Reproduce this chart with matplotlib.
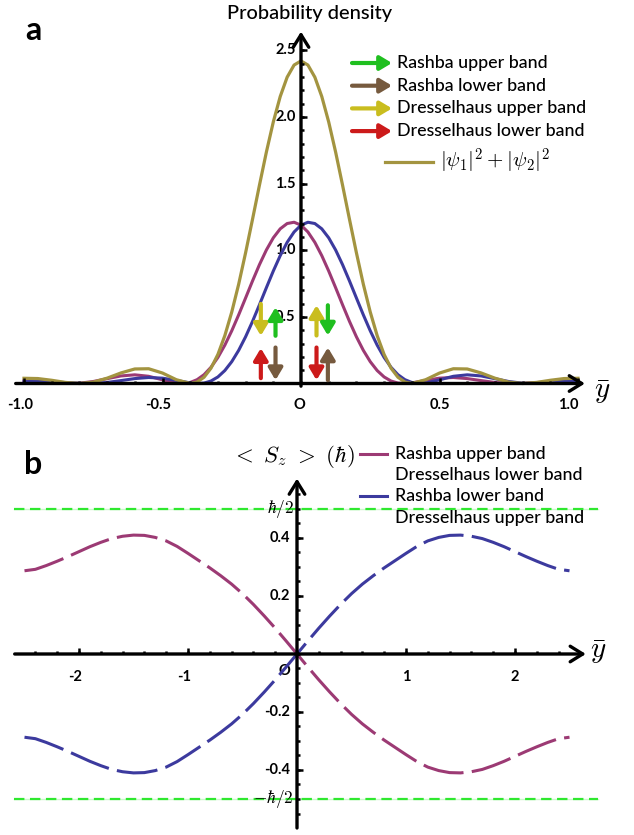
import numpy as np
import matplotlib
matplotlib.use("Agg")
import matplotlib.pyplot as plt

# Panel a: probability density
y_top = [-1.0, -0.95, -0.9, -0.85, -0.8, -0.75, -0.7, -0.65, -0.6, -0.55, -0.5, -0.45,
         -0.4, -0.375, -0.35, -0.325, -0.3, -0.275, -0.25, -0.225, -0.2, -0.175, -0.15,
         -0.125, -0.1, -0.075, -0.05, -0.025, 0.0, 0.025, 0.05, 0.075, 0.1, 0.125, 0.15,
         0.175, 0.2, 0.225, 0.25, 0.275, 0.3, 0.325, 0.35, 0.375, 0.4,
         0.45, 0.5, 0.55, 0.6, 0.65, 0.7, 0.75, 0.8, 0.85, 0.9, 0.95, 1.0]

psi1_sq = [0.0225, 0.0173, 0.0081, 0.0008, 0.0021, 0.0149, 0.0362, 0.0568, 0.0651, 0.0541, 0.0276, 0.0031,
           0.0078, 0.0289, 0.0662, 0.1215, 0.1956, 0.2877, 0.3953, 0.5151, 0.6418, 0.7694, 0.8916,
           1.0016, 1.0929, 1.1604, 1.2001, 1.2097, 1.1879, 1.1367, 1.0589, 0.9593, 0.8438, 0.7187, 0.5906,
           0.4660, 0.3506, 0.2488, 0.1638, 0.0972, 0.0492, 0.0186, 0.0033, 0.0002, 0.0046,
           0.0232, 0.0401, 0.0449, 0.0369, 0.0219, 0.0079, 0.0006, 0.0012, 0.0069, 0.0130, 0.0157, 0.0138]

psi2_sq = [0.0138, 0.0157, 0.0130, 0.0069, 0.0012, 0.0006, 0.0079, 0.0219, 0.0369, 0.0449, 0.0401, 0.0232,
           0.0046, 0.0002, 0.0033, 0.0186, 0.0492, 0.0972, 0.1638, 0.2488, 0.3506, 0.4660, 0.5906,
           0.7187, 0.8438, 0.9593, 1.0589, 1.1367, 1.1879, 1.2097, 1.2001, 1.1604, 1.0929, 1.0016, 0.8916,
           0.7694, 0.6418, 0.5151, 0.3953, 0.2877, 0.1956, 0.1215, 0.0662, 0.0289, 0.0078,
           0.0031, 0.0276, 0.0541, 0.0651, 0.0568, 0.0362, 0.0149, 0.0021, 0.0008, 0.0081, 0.0173, 0.0225]

psi_total = [0.0392, 0.0371, 0.0242, 0.0080, 0.0, 0.0102, 0.0400, 0.0793, 0.1090, 0.1107, 0.0785, 0.0284,
             0.0, 0.011, 0.047, 0.115, 0.218, 0.359, 0.536, 0.745, 0.981, 1.232, 1.488,
             1.736, 1.962, 2.153, 2.298, 2.389, 2.42, 2.389, 2.298, 2.153, 1.962, 1.736, 1.488,
             1.232, 0.981, 0.745, 0.536, 0.359, 0.218, 0.115, 0.047, 0.011, 0.0,
             0.0284, 0.0785, 0.1107, 0.1090, 0.0793, 0.0400, 0.0102, 0.0, 0.0080, 0.0242, 0.0371, 0.0392]

# spin arrows in panel a: x, tail, tip
arrow_x = [-0.145, -0.092, -0.145, -0.092, 0.056, 0.097, 0.056, 0.097]
arrow_tail = [0.597, 0.358, 0.040, 0.270, 0.360, 0.587, 0.270, 0.025]
arrow_tip = [0.358, 0.572, 0.265, 0.025, 0.587, 0.360, 0.025, 0.270]
arrow_band = ["D_up", "R_up", "D_low", "R_low", "D_up", "R_up", "D_low", "R_low"]

band_labels = ["Rashba upper band", "Rashba lower band", "Dresselhaus upper band", "Dresselhaus lower band"]
band_keys = ["R_up", "R_low", "D_up", "D_low"]

# Panel b: spin expectation
y_bot = [-2.5, -2.4, -2.3, -2.2, -2.1, -2.0, -1.9, -1.8, -1.7, -1.6, -1.5, -1.4, -1.3, -1.2, -1.1,
         -1.0, -0.9, -0.8, -0.7, -0.6, -0.5, -0.4, -0.3, -0.2, -0.1, 0.0,
         0.1, 0.2, 0.3, 0.4, 0.5, 0.6, 0.7, 0.8, 0.9, 1.0, 1.1, 1.2, 1.3, 1.4, 1.5,
         1.6, 1.7, 1.8, 1.9, 2.0, 2.1, 2.2, 2.3, 2.4, 2.5]
sz_rashba_up = [0.287, 0.292, 0.305, 0.320, 0.336, 0.353, 0.370, 0.385, 0.398, 0.406, 0.410, 0.409, 0.402,
                0.390, 0.371, 0.347, 0.322, 0.297, 0.270, 0.241, 0.208, 0.171, 0.131, 0.089, 0.045, 0.0,
                -0.045, -0.089, -0.131, -0.171, -0.208, -0.241, -0.270, -0.297, -0.322, -0.347, -0.371,
                -0.390, -0.402, -0.409, -0.410, -0.406, -0.398, -0.385, -0.370, -0.353, -0.336, -0.320,
                -0.305, -0.292, -0.287]
sz_rashba_low = [-0.287, -0.292, -0.305, -0.320, -0.336, -0.353, -0.370, -0.385, -0.398, -0.406, -0.410,
                 -0.409, -0.402, -0.390, -0.371, -0.347, -0.322, -0.297, -0.270, -0.241, -0.208, -0.171,
                 -0.131, -0.089, -0.045, 0.0,
                 0.045, 0.089, 0.131, 0.171, 0.208, 0.241, 0.270, 0.297, 0.322, 0.347, 0.371, 0.390,
                 0.402, 0.409, 0.410, 0.406, 0.398, 0.385, 0.370, 0.353, 0.336, 0.320, 0.305, 0.292, 0.287]
hbar_half = 0.5

# colours
PURPLE = "#9c3a74"
BLUE = "#3c3a9e"
OLIVE = "#a39440"
GREEN_DASH = "#2fe82f"
arrow_colors = {"R_up": "#1fbf1f", "R_low": "#765a3e", "D_up": "#c9bd1e", "D_low": "#cc1a1a"}

plt.rcParams['font.family'] = ['Lato', 'DejaVu Sans']
plt.rcParams['mathtext.fontset'] = 'cm'
plt.rcParams['lines.scale_dashes'] = False

W, H = 634, 835
fig = plt.figure(figsize=(W / 100, H / 100), dpi=100)


def make_axes(x0, ux, xlim, y0, uy, ylim):
    # place axes so that data units map onto the reference pixels
    left = x0 + ux * xlim[0]
    right = x0 + ux * xlim[1]
    top = y0 - uy * ylim[1]
    bot = y0 - uy * ylim[0]
    ax = fig.add_axes([left / W, 1 - bot / H, (right - left) / W, (bot - top) / H])
    ax.set_xlim(xlim)
    ax.set_ylim(ylim)
    ax.axis('off')
    return ax


def draw_axes(ax, xa, ya):
    kw = dict(arrowstyle='->,head_length=0.45,head_width=0.28', color='black', lw=2.4,
              mutation_scale=20, shrinkA=0, shrinkB=0)
    ax.annotate('', xy=(xa[1], 0), xytext=(xa[0], 0), arrowprops=kw, zorder=4)
    ax.annotate('', xy=(0, ya[1]), xytext=(0, ya[0]), arrowprops=kw, zorder=4)


def fpx(x, y):
    return x / W, 1 - y / H


label_kw = dict(fontsize=10.5, fontweight='bold', color='black')
TXT = 12.8

# ---------------- panel a ----------------
ax1 = make_axes(301, 277, (-1.08, 1.08), 383.5, 133.3, (-0.1, 2.7))
draw_axes(ax1, (-1.03, 1.025), (-0.02, 2.64))

ax1.plot(np.arange(-1.0, 1.001, 0.1), np.zeros(21), ls='none', marker=2, ms=2.5, mew=1.8, color='k', zorder=4)
ax1.plot([-1.0, -0.5, 0.5, 1.0], np.zeros(4), ls='none', marker=2, ms=4, mew=1.8, color='k', zorder=4)
ax1.plot(np.zeros(25), np.arange(0.1, 2.51, 0.1), ls='none', marker=1, ms=2.5, mew=1.8, color='k', zorder=4)
ax1.plot(np.zeros(5), [0.5, 1.0, 1.5, 2.0, 2.5], ls='none', marker=1, ms=4, mew=1.8, color='k', zorder=4)

for v, s in zip([-1.0, -0.5, 0.5, 1.0], ["-1.0", "-0.5", "0.5", "1.0"]):
    ax1.text(v - (0.015 if v < 0 else 0.0) - (0.035 if v == 1.0 else 0.0), -0.11, s,
             ha='center', va='top', **label_kw)
ax1.text(-0.005, -0.11, "O", ha='center', va='top', **label_kw)
for v, s in zip([0.5, 1.0, 1.5, 2.0, 2.5], ["0.5", "1.0", "1.5", "2.0", "2.5"]):
    ax1.text(-0.02, v, s, ha='right', va='center', zorder=1, **label_kw)

ax1.plot(y_top, psi1_sq, color=PURPLE, lw=2.2, zorder=3)
ax1.plot(y_top, psi2_sq, color=BLUE, lw=2.2, zorder=3)
ax1.plot(y_top, psi_total, color=OLIVE, lw=2.3, zorder=3)

for x, y0, y1, b in zip(arrow_x, arrow_tail, arrow_tip, arrow_band):
    ax1.annotate('', xy=(x, y1), xytext=(x, y0),
                 arrowprops=dict(arrowstyle='-|>,head_length=0.5,head_width=0.3', color=arrow_colors[b],
                                 lw=3.0, mutation_scale=14, shrinkA=0, shrinkB=0), zorder=5)

fig.text(*fpx(310, 14), "Probability density", fontsize=14.4, fontweight='medium', ha='center', va='center')
fig.text(*fpx(33, 31), "a", fontsize=23, fontweight='bold', ha='center', va='center')
fig.text(*fpx(602, 392), r"$\bar{y}$", fontsize=21, ha='center', va='center')

for i, (lab, key) in enumerate(zip(band_labels, band_keys)):
    yy = 63 + i * 22.7
    fig.add_artist(matplotlib.patches.FancyArrowPatch(
        fpx(352, yy), fpx(392, yy), transform=fig.transFigure,
        arrowstyle='-|>,head_length=0.5,head_width=0.3', color=arrow_colors[key],
        lw=3.0, mutation_scale=14, shrinkA=0, shrinkB=0))
    fig.text(*fpx(397, yy), lab, fontsize=TXT, fontweight='medium', ha='left', va='center')

fig.add_artist(matplotlib.lines.Line2D([385 / W, 433 / W], [1 - 162 / H, 1 - 162 / H],
                                       color=OLIVE, lw=2.3, transform=fig.transFigure))
fig.text(*fpx(440, 161), r"$|\psi_1|^2+|\psi_2|^2$", fontsize=15, ha='left', va='center')

# ---------------- panel b ----------------
ax2 = make_axes(297, 109, (-2.7, 2.8), 654, 290, (-0.62, 0.62))

for s in (hbar_half, -hbar_half):
    ax2.plot([-2.6, 2.76], [s, s], color=GREEN_DASH, lw=1.0, alpha=0.25, zorder=1)
    ax2.plot([-2.6, 2.76], [s, s], color=GREEN_DASH, lw=1.6, dashes=(7.5, 4.0), zorder=2)

draw_axes(ax2, (-2.59, 2.65), (-0.6, 0.605))

ax2.plot(np.arange(-2.4, 2.41, 0.2), np.zeros(25), ls='none', marker=2, ms=2.5, mew=1.8, color='k', zorder=4)
ax2.plot([-2, -1, 1, 2], np.zeros(4), ls='none', marker=2, ms=4, mew=1.8, color='k', zorder=4)
ax2.plot(np.zeros(23), np.arange(-0.55, 0.56, 0.05), ls='none', marker=1, ms=2.5, mew=1.8, color='k', zorder=4)
ax2.plot(np.zeros(4), [-0.4, -0.2, 0.2, 0.4], ls='none', marker=1, ms=4, mew=1.8, color='k', zorder=4)

for v, s in zip([-2, -1, 1, 2], ["-2", "-1", "1", "2"]):
    ax2.text(v - (0.04 if v < 0 else 0.0), -0.055, s, ha='center', va='top', **label_kw)
ax2.text(-0.12, -0.035, "O", ha='center', va='top', **label_kw)
for v, s in zip([-0.4, -0.2, 0.2, 0.4], ["-0.4", "-0.2", "0.2", "0.4"]):
    ax2.text(-0.06, v, s, ha='right', va='center', **label_kw)
ax2.text(-0.03, hbar_half, r"$\hbar/2$", fontsize=12.5, ha='right', va='center')
ax2.text(-0.03, -hbar_half, r"$-\hbar/2$", fontsize=12.5, ha='right', va='center')

ax2.plot(y_bot, sz_rashba_up, color=PURPLE, lw=2.2, dashes=(29.5, 6.0), zorder=3)
ax2.plot(y_bot, sz_rashba_low, color=BLUE, lw=2.2, dashes=(29.5, 6.0), zorder=3)

fig.text(*fpx(33, 465), "b", fontsize=23, fontweight='bold', ha='center', va='center')
fig.text(*fpx(598, 652), r"$\bar{y}$", fontsize=21, ha='center', va='center')
fig.text(*fpx(293, 457), r"$<\ S_z\ >\ (\hbar)$", fontsize=16.5, ha='center', va='center')

for (c, y0), labs in zip([(PURPLE, 454), (BLUE, 496)],
                         [("Rashba upper band", "Dresselhaus lower band"),
                          ("Rashba lower band", "Dresselhaus upper band")]):
    fig.add_artist(matplotlib.lines.Line2D([360 / W, 387 / W], [1 - y0 / H, 1 - y0 / H],
                                           color=c, lw=2.2, transform=fig.transFigure))
    fig.text(*fpx(395, y0), labs[0], fontsize=TXT, fontweight='medium', ha='left', va='center')
    fig.text(*fpx(395, y0 + 21.5), labs[1], fontsize=TXT, fontweight='medium', ha='left', va='center')

fig.savefig("out.png", dpi=100)
